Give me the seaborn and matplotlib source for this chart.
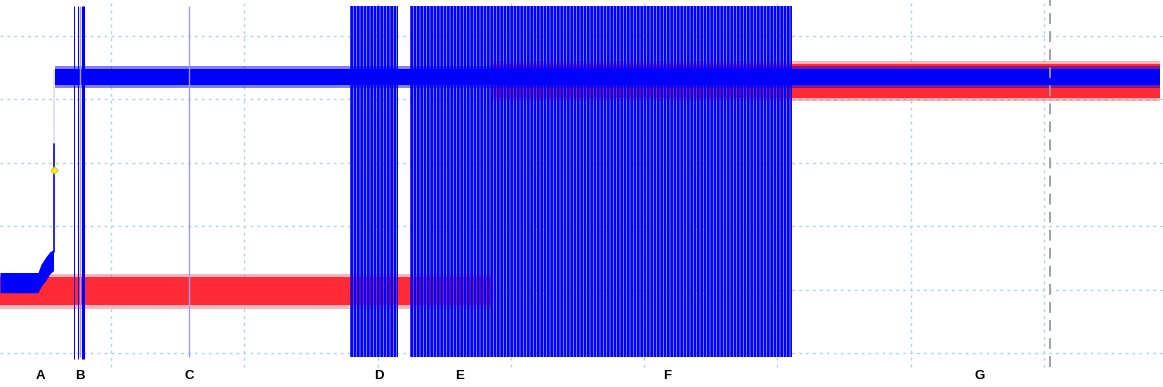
import numpy as np
import pandas as pd
import matplotlib
matplotlib.use("Agg")
import matplotlib.pyplot as plt
import seaborn as sns

sns.set_style("white")
plt.rcParams["font.family"] = ["Liberation Sans", "DejaVu Sans"]
plt.rcParams["hatch.linewidth"] = 1.9

# ---------------- data (time in samples, voltage in V) ----------------
# blue channel, low level before the rising edge (envelope)
blue_low_t = [0, 38, 41, 46, 50, 53.5]
blue_low_hi = [1.27, 1.27, 1.40, 1.52, 1.60, 1.63]
blue_low_lo = [0.95, 0.95, 1.05, 1.15, 1.25, 1.30]
# blue channel, high level after the edge
blue_high_t = [55, 1160]
blue_high_hi = [4.48, 4.48]
blue_high_lo = [4.23, 4.23]
blue_high_fringe_hi = [4.52, 4.52]
blue_high_fringe_lo = [4.18, 4.18]
# rising edge
edge_t = [54, 54]
edge_v = [1.60, 3.30]
edge_faint_v = [3.30, 4.45]
marker_t = [54]
marker_v = [2.89]

# red channel, low level then high level
red_low_t = [0, 491]
red_low_hi = [1.20, 1.20]
red_low_lo = [0.75, 0.75]
red_low_fringe_hi = [1.25, 1.25]
red_low_fringe_lo = [0.70, 0.70]
red_high_t = [491, 1160]
red_high_hi = [4.56, 4.56]
red_high_lo = [4.03, 4.03]
red_high_fringe_hi = [4.61, 4.61]
red_high_fringe_lo = [3.97, 3.97]

# bursts of full-swing spikes on the blue channel
burst_start = [350, 410]
burst_end = [398, 792]
spike_top = 5.47
spike_bottom = -0.06

# isolated spikes (B) and the faint marker line (C)
spike_t = [73.5, 77.5, 83]
spike_w = [1.0, 1.0, 3.0]
faint_spike_t = [80, 189]

# event labels
label_text = ["A", "B", "C", "D", "E", "F", "G"]
label_t = [40, 80, 189, 379, 460, 667, 980]

cursor_t = 1050
grid_t = [111, 244, 378, 511, 644, 777, 911, 1044]
grid_v = [0, 1, 2, 3, 4, 5]

BLUE = "#0000ff"
RED = "#ff2a36"
GRID = "#abd6e6"

fig = plt.figure(figsize=(11.63, 3.87), dpi=100)
ax = fig.add_axes([0, 0, 1, 1])
ax.set_xlim(0, 1163)
ax.set_ylim(-0.536, 5.568)
ax.set_axis_off()

# grid
for g in grid_v:
    ax.axhline(g, color=GRID, lw=1.0, ls=(0, (2, 3)), zorder=0)
ax.vlines(grid_t, -0.22, 5.568, color=GRID, lw=1.0, ls=(0, (2, 3)), zorder=0)

# blue bursts: faint body underneath the red trace
for s, e in zip(burst_start, burst_end):
    ax.fill_between([s, e], [spike_bottom] * 2, [spike_top] * 2, color=BLUE, alpha=0.28, lw=0, zorder=1.5)

# red channel
ax.fill_between(red_low_t, red_low_fringe_lo, red_low_fringe_hi, color=RED, alpha=0.35, lw=0, zorder=2)
ax.fill_between(red_low_t, red_low_lo, red_low_hi, color=RED, lw=0, zorder=2)
ax.fill_between(red_high_t, red_high_fringe_lo, red_high_fringe_hi, color=RED, alpha=0.35, lw=0, zorder=2)
ax.fill_between(red_high_t, red_high_lo, red_high_hi, color=RED, lw=0, zorder=2)

# blue bursts: dense spikes on top
for s, e in zip(burst_start, burst_end):
    ax.fill_between([s, e], [spike_bottom] * 2, [spike_top] * 2, facecolor="none",
                    edgecolor=BLUE, hatch="|||||", lw=0, zorder=3)

# blue levels
ax.fill_between(blue_low_t, blue_low_lo, blue_low_hi, color=BLUE, lw=0, zorder=4)
ax.fill_between(blue_high_t, blue_high_fringe_lo, blue_high_fringe_hi, color=BLUE, alpha=0.5, lw=0, zorder=4)
ax.fill_between(blue_high_t, blue_high_lo, blue_high_hi, color=BLUE, lw=0, zorder=4)

# edge and marker
edge_df = pd.DataFrame({"t": edge_t, "v": edge_v})
sns.lineplot(data=edge_df, x="t", y="v", color=BLUE, lw=1.2, ax=ax, zorder=5, estimator=None, sort=False)
ax.plot(edge_t, edge_faint_v, color=BLUE, alpha=0.12, lw=1.5, zorder=5)
sns.scatterplot(x=marker_t, y=marker_v, marker="D", s=14, color="#ffee00",
                edgecolor="#c8b400", lw=0.5, ax=ax, zorder=6)

# isolated spikes
for t, w in zip(spike_t, spike_w):
    ax.vlines(t, spike_bottom - 0.04, spike_top, color=BLUE, lw=w * 0.72, zorder=5)
ax.vlines(faint_spike_t, spike_bottom, spike_top, color="#9c9cf2", lw=1.0, zorder=5)

# cursor
ax.vlines(cursor_t, -0.22, 5.568, color="#9a9a9a", lw=1.3, ls=(0, (6, 4)), zorder=6)

# labels
for txt, t in zip(label_text, label_t):
    ax.text(t, -0.363, txt, ha="center", va="center", fontsize=9.5, fontweight="bold", color="black")

ax.set_xlabel("")
ax.set_ylabel("")
fig.savefig("out.png", dpi=100)
